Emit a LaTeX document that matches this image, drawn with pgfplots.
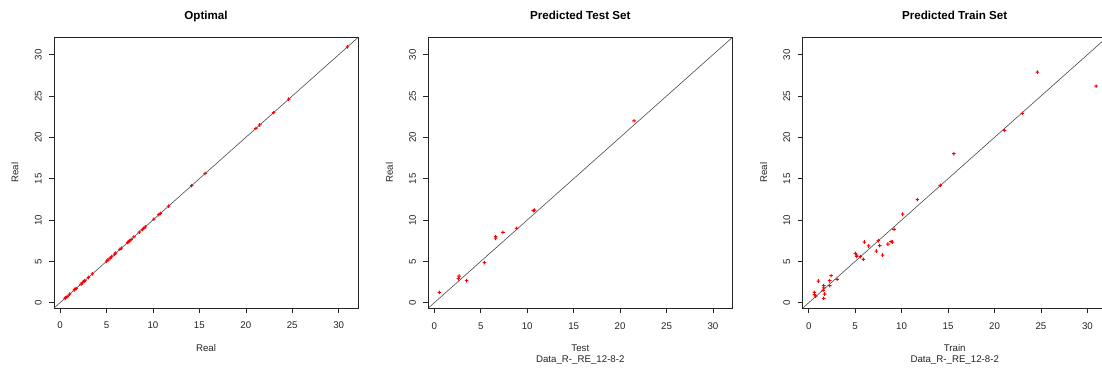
\documentclass[border=0pt]{standalone}
\usepackage{fontspec}
\setmainfont{Liberation Sans}
\usepackage{pgfplots}
\pgfplotsset{compat=1.18}
\definecolor{rred}{rgb}{1,0,0}
\pgfdeclareplotmark{rplus}{%
  \pgfpathrectangle{\pgfqpoint{-\pgfplotmarksize}{-0.5pt}}{\pgfqpoint{2\pgfplotmarksize}{1pt}}%
  \pgfpathrectangle{\pgfqpoint{-0.5pt}{-\pgfplotmarksize}}{\pgfqpoint{1pt}{2\pgfplotmarksize}}%
  \pgfusepath{fill}}
\newcommand{\tickfont}{\fontsize{9.7}{11.6}\selectfont}
\newcommand{\titlefont}{\fontsize{11.6}{13.9}\selectfont\bfseries}
\pgfplotsset{rplot/.style={
  scale only axis, width=304pt, height=271pt,
  xmin=-0.65, xmax=32.08, ymin=-0.64, ymax=32.14,
  xtick={0,5,...,30}, ytick={0,5,...,30},
  xtick pos=lower, ytick pos=left,
  tick align=outside, major tick length=5pt,
  every tick/.style={black!85, line width=0.6pt},
  axis line style={black!85, line width=0.8pt},
  /pgf/number format/assume math mode=true,
  ticklabel style={font=\tickfont, text=black!85},
  xticklabel style={anchor=base, yshift=-16pt},
  yticklabel style={xshift=-7.5pt, rotate=90, anchor=base},
  title style={font=\titlefont, at={(axis description cs:0.5,1)}, anchor=base, yshift=11.4pt},
  xlabel style={font=\tickfont, text=black!85, at={(axis description cs:0.5,0)}, anchor=base, yshift=-43.5pt},
  ylabel style={font=\tickfont, text=black!85, at={(axis description cs:0,0.5)}, anchor=base, yshift=35.5pt},
  clip=true,
}}
\pgfplotsset{diag/.style={black!75, line width=0.55pt, forget plot}}
\pgfplotsset{pts/.style={only marks, mark=rplus, mark size=1.8pt, fill=rred, every mark/.append style={fill=rred, draw=none}}}
\pgfplotsset{subline/.style={extra description/.code={\node[font=\tickfont, text=black!85, anchor=base] at ([yshift=-54.8pt]axis description cs:0.5,0) {Data\_R-\_RE\_12-8-2};}}}
\begin{document}
\begin{tikzpicture}
\useasboundingbox (0,0) rectangle (1102pt,369pt);
\fill[white] (0,0) rectangle (1102pt,369pt);
% Panel 1
\begin{axis}[rplot, at={(54pt,61pt)}, anchor=south west, title={Optimal}, xlabel={Real}, ylabel={Real}]
\addplot[diag] coordinates {(-2,-2) (34,34)};
\addplot[pts] coordinates {
(0.54,0.54) (0.61,0.61) (0.75,0.75) (1.04,1.04) (1.55,1.55) (1.61,1.61) (1.72,1.72)
(2.26,2.26) (2.41,2.41) (2.58,2.58) (2.66,2.66) (3.05,3.05) (3.48,3.48)
(5.02,5.02) (5.16,5.16) (5.38,5.38) (5.56,5.56) (5.88,5.88) (5.99,5.99) (6.45,6.45) (6.6,6.6)
(7.28,7.28) (7.39,7.39) (7.49,7.49) (7.64,7.64) (7.96,7.96) (8.53,8.53) (8.86,8.86) (9.0,9.0) (9.18,9.18)
(10.11,10.11) (10.65,10.65) (10.8,10.8) (11.69,11.69) (14.16,14.16) (15.63,15.63)
(21.08,21.08) (21.5,21.5) (23.0,23.0) (24.62,24.62) (30.94,30.94)
};
\end{axis}
% Panel 2
\begin{axis}[rplot, subline, at={(428.3pt,61pt)}, anchor=south west, title={Predicted Test Set}, xlabel={Test}, ylabel={Real}]
\addplot[diag] coordinates {(-2,-2) (34,34)};
\addplot[pts] coordinates {
(0.54,1.25) (2.66,3.23) (2.58,2.9) (3.48,2.66) (5.38,4.84) (6.6,7.98) (6.6,7.8)
(7.39,8.5) (8.86,9.0) (10.65,11.13) (10.8,11.2) (21.5,22.0)
};
\end{axis}
% Panel 3
\begin{axis}[rplot, subline, at={(802.7pt,61pt)}, anchor=south west, title={Predicted Train Set}, xlabel={Train}, ylabel={Real}]
\addplot[diag] coordinates {(-2,-2) (34,34)};
\addplot[pts] coordinates {
(0.61,1.25) (0.61,0.97) (0.75,0.81) (1.04,2.62) (1.61,2.06) (1.61,1.78) (1.55,1.5) (1.72,1.05) (1.61,0.53)
(2.26,2.06) (2.26,2.66) (2.41,3.27) (3.05,2.83)
(5.02,5.97) (5.16,5.77) (5.16,5.6) (5.56,5.57) (5.88,5.25) (5.99,7.34) (6.45,6.86)
(7.28,6.25) (7.49,7.5) (7.64,6.9) (7.96,5.77) (8.53,7.1) (8.86,7.38) (9.0,7.34) (9.18,8.88)
(10.11,10.7) (11.69,12.46) (14.16,14.2) (15.63,18.02) (21.08,20.85) (23.0,22.9) (24.62,27.9) (30.94,26.2)
};
\end{axis}
\end{tikzpicture}
\end{document}
